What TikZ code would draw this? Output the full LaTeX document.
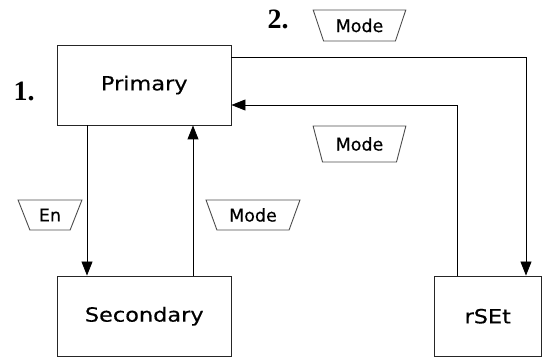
\documentclass[tikz,border=0pt]{standalone}
\usepackage{fontspec}
\setmainfont[FakeBold=0.35]{DejaVu Sans}
\newfontfamily\boxfont[FakeStretch=1.15,FakeBold=0.35]{DejaVu Sans}
\newfontfamily\numfont{Liberation Serif}
\usetikzlibrary{arrows.meta,shapes.geometric}
\tikzset{
  box/.style={draw=black!85, line width=0.9pt, minimum width=173.5pt, inner sep=0pt,
    font=\boxfont\fontsize{19.5}{22}\selectfont},
  trap/.style={draw=black!70, line width=0.9pt, shape=trapezium, shape border rotate=180,
    trapezium stretches=true, inner sep=0pt, font=\fontsize{17.5}{20}\selectfont},
  arr/.style={line width=0.9pt, -{Triangle[width=11pt,length=14pt]}},
  num/.style={font=\numfont\bfseries\fontsize{28}{30}\selectfont, inner sep=0pt}
}
\begin{document}
\begin{tikzpicture}[x=1pt,y=-1pt]
\useasboundingbox (0,0) rectangle (542,358);
% boxes
\node[box, minimum height=80pt] (Primary) at (144.25,85) {Primary};
\node[box, minimum height=80.5pt] (Secondary) at (144.25,316.25) {Secondary};
\node[box, minimum width=107.5pt, minimum height=80.5pt] (rSEt) at (487.75,316.25) {rSEt};
% numbers
\node[num] (n1) at (24,91) {1.};
\node[num] (n2) at (278,19) {2.};
% labels
\node[trap, minimum width=93pt, minimum height=31pt, trapezium left angle=63, trapezium right angle=63] (m1) at (359.5,25.5) {Mode};
\node[trap, minimum width=93pt, minimum height=36pt, trapezium left angle=66, trapezium right angle=66] (m2) at (359.5,144) {Mode};
\node[trap, minimum width=64pt, minimum height=30pt, trapezium left angle=63, trapezium right angle=63] (en) at (50,215) {En};
\node[trap, minimum width=94pt, minimum height=30pt, trapezium left angle=62, trapezium right angle=62] (m3) at (253,215) {Mode};
% connector points
\coordinate (c1) at (526,57);
\coordinate (c2) at (457,105);
\coordinate (c3) at (87,200);
\coordinate (c4) at (193,200);
% connectors
\draw[arr] (Primary.east |- c1) -| (c1 |- rSEt.north);
\draw[arr] (c2 |- rSEt.north) |- (Primary.east |- c2);
\draw[arr] (Primary.south -| c3) -- (Secondary.north -| c3);
\draw[arr] (Secondary.north -| c4) -- (Primary.south -| c4);
\end{tikzpicture}
\end{document}
